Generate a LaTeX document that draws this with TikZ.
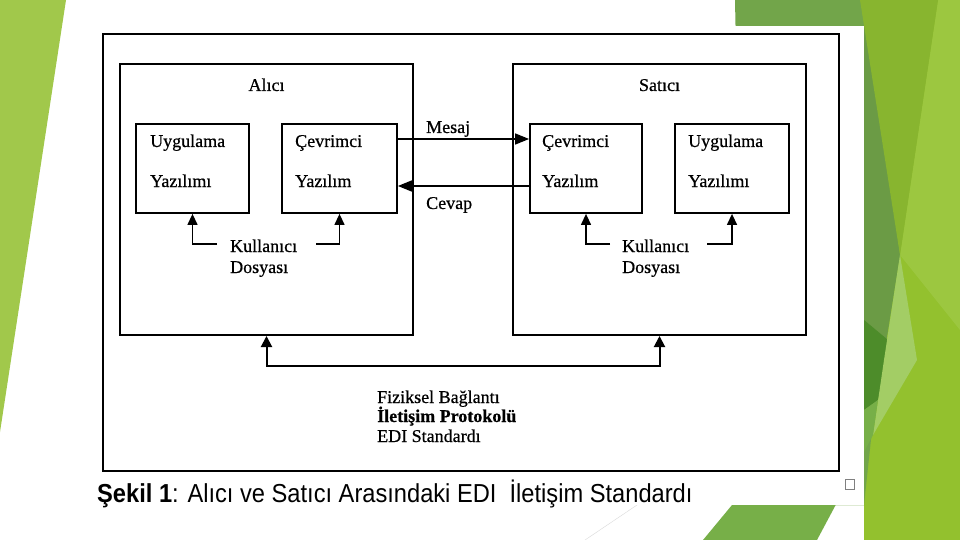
\documentclass[tikz,border=0pt]{standalone}
\usepackage{fontspec}
\setmainfont{Liberation Serif}[FakeBold=0.6]
\newfontfamily\capfont{Liberation Sans}[FakeStretch=0.91]
\usetikzlibrary{arrows.meta}
\definecolor{gLeft}{HTML}{A1C84B}
\definecolor{gTop}{HTML}{72A54A}
\definecolor{gDark}{HTML}{6B9B45}
\definecolor{gV}{HTML}{88B52F}
\definecolor{gLight}{HTML}{9CC740}
\definecolor{gBase}{HTML}{93C12E}
\definecolor{gDeep}{HTML}{4D8C2A}
\definecolor{gPale}{HTML}{A3CD65}
\definecolor{gMid}{HTML}{77AF48}
\tikzset{
  frame/.style={draw, line width=1.8pt, inner sep=0pt},
  party/.style={draw, line width=2pt, inner sep=0pt, minimum width=293pt, minimum height=271pt},
  soft/.style={draw, line width=1.8pt, inner sep=0pt, minimum height=89pt},
  lbl/.style={anchor=base west, inner sep=0pt, font=\fontsize{18}{20}\selectfont},
  ttl/.style={anchor=base, inner sep=0pt, font=\fontsize{18}{20}\selectfont},
  arr/.style={line width=1.3pt, -{Triangle[length=11pt,width=10pt]}},
  msg/.style={line width=1.5pt, -{Triangle[length=14pt,width=11pt]}},
  link/.style={line width=2pt, {Triangle[length=11pt,width=11pt]}-{Triangle[length=11pt,width=11pt]}}
}
\begin{document}
\begin{tikzpicture}[x=1pt,y=-1pt]
\useasboundingbox (0,0) rectangle (960,540);
% background
\fill[white] (0,0) rectangle (960,540);
\fill[gLeft] (0,0) -- (66,0) -- (0,432) -- cycle;
\fill[gBase] (864,0) rectangle (960,540);
\fill[gLight] (938,0) -- (960,0) -- (960,330) -- (900,255) -- cycle;
\fill[gTop] (735,0) -- (862,0) -- (900,255) -- (872,430) -- (864,505) -- (745,505) -- cycle;
\fill[gDark] (864,26) -- (866,0) -- (900,255) -- (872,430) -- (864,430) -- cycle;
\fill[gV] (860,0) -- (938,0) -- (900,255) -- cycle;
\fill[gDeep] (864,320) -- (894,345) -- (878,400) -- (864,410) -- cycle;
\fill[gPale] (900,255) -- (917,360) -- (873,435) -- (884,360) -- cycle;
\fill[gMid] (703,540) -- (732,505) -- (864,505) -- (864,410) -- (878,400) -- (873,435) -- (817,540) -- cycle;
\draw[gray!30, line width=0.4pt] (585,540) -- (637,505);
\fill[white] (80,26) rectangle (864,505);

% diagram
\node[frame, minimum width=736pt, minimum height=437pt] (fig) at (471,252.5) {};
\node[party] (alici) at (266.5,199.5) {};
\node[party] (satici) at (659.5,199.5) {};
\node[soft, minimum width=113pt] (lu) at (192.5,168.5) {};
\node[soft, minimum width=115pt] (lc) at (339.5,168.5) {};
\node[soft, minimum width=112pt] (rc) at (586,168.5) {};
\node[soft, minimum width=114pt] (ru) at (732,168.5) {};

\node[ttl] (talici) at (266.5,91) {Alıcı};
\node[ttl] (tsatici) at (659.5,91) {Satıcı};

\node[lbl] (lu1) at (150,147) {Uygulama};
\node[lbl] (lu2) at (150,187) {Yazılımı};
\node[lbl] (lc1) at (295,147) {Çevrimci};
\node[lbl] (lc2) at (295,187) {Yazılım};
\node[lbl] (rc1) at (542,147) {Çevrimci};
\node[lbl] (rc2) at (542,187) {Yazılım};
\node[lbl] (ru1) at (688,147) {Uygulama};
\node[lbl] (ru2) at (688,187) {Yazılımı};

\node[lbl] (mesaj) at (426,133) {Mesaj};
\node[lbl] (cevap) at (426,209) {Cevap};
\draw[msg] ([yshift=29.5pt]lc.east) -- ([yshift=29.5pt]rc.west);
\draw[msg] ([yshift=-17.5pt]rc.west) -- ([yshift=-17.5pt]lc.east);

\node[lbl] (lk1) at (230,252) {Kullanıcı};
\node[lbl] (lk2) at (230,273) {Dosyası};
\node[lbl] (rk1) at (622,252) {Kullanıcı};
\node[lbl] (rk2) at (622,273) {Dosyası};
\coordinate (lka) at (217,244);
\coordinate (lkb) at (316,244);
\coordinate (rka) at (610,244);
\coordinate (rkb) at (707,244);
\draw[arr] (lka) -| (lu.south);
\draw[arr] (lkb) -| (lc.south);
\draw[arr] (rka) -| (rc.south);
\draw[arr] (rkb) -| (ru.south);

\draw[link] (alici.south) -- ++(0,30) -| (satici.south);

\node[lbl] (b1) at (377,403) {Fiziksel Bağlantı};
\node[lbl] (b2) at (377,422) {\bfseries İletişim Protokolü};
\node[lbl] (b3) at (377,442) {EDI Standardı};

\node[anchor=base west, inner sep=0pt, font=\capfont\fontsize{26}{28}\selectfont] (cap) at (97,502) {\textbf{Şekil 1}: Alıcı ve Satıcı Arasındaki EDI\ \ İletişim Standardı};
\node[draw=gray, line width=0.6pt, minimum width=9pt, minimum height=10pt, inner sep=0pt] (sq) at (850,484) {};
\end{tikzpicture}
\end{document}
